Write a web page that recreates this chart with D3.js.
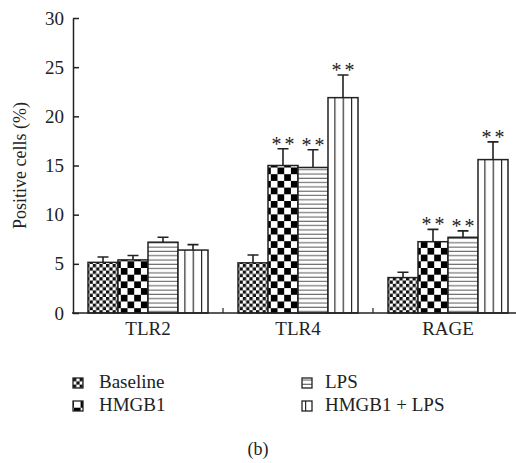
<!DOCTYPE html>
<html>
<head>
<meta charset="utf-8">
<script src="https://cdn.jsdelivr.net/npm/d3@7"></script>
<style>
  body { margin: 0; background: #fff; }
  text { font-family: "Liberation Serif", "DejaVu Serif", serif; fill: #222; }
</style>
</head>
<body>
<div id="chart"></div>
<script>
// data
var groups = ["TLR2", "TLR4", "RAGE"];
var series = ["Baseline", "HMGB1", "LPS", "HMGB1 + LPS"];
var means = [
  [5.15, 5.4, 7.2, 6.4],     // TLR2
  [5.1, 15.0, 14.8, 21.9],   // TLR4
  [3.6, 7.25, 7.7, 15.6]     // RAGE
];
var errs = [
  [0.55, 0.45, 0.5, 0.55],
  [0.8, 1.7, 1.8, 2.3],
  [0.55, 1.25, 0.65, 1.8]
];
var stars = [
  [false, false, false, false],
  [false, true, true, true],
  [false, true, true, true]
];
var yTicks = [0, 5, 10, 15, 20, 25, 30];
var panelLabel = "(b)";

var width = 516, height = 463;
var marginLeft = 73, marginTop = 18, plotBottom = 313;

var svg = d3.select("#chart").append("svg")
  .attr("width", width).attr("height", height);

// patterns
var defs = svg.append("defs");
var p0 = defs.append("pattern").attr("id", "pat0").attr("patternUnits", "userSpaceOnUse")
  .attr("width", 6.6).attr("height", 6.6);
p0.append("rect").attr("width", 6.6).attr("height", 6.6).attr("fill", "#fff");
p0.append("rect").attr("width", 3.3).attr("height", 3.3).attr("fill", "#111");
p0.append("rect").attr("x", 3.3).attr("y", 3.3).attr("width", 3.3).attr("height", 3.3).attr("fill", "#111");

var p1 = defs.append("pattern").attr("id", "pat1").attr("patternUnits", "userSpaceOnUse")
  .attr("x", 88).attr("y", 0).attr("width", 13.4).attr("height", 13.4);
p1.append("rect").attr("width", 13.4).attr("height", 13.4).attr("fill", "#fff");
p1.append("rect").attr("width", 6.7).attr("height", 6.7).attr("fill", "#000");
p1.append("rect").attr("x", 6.7).attr("y", 6.7).attr("width", 6.7).attr("height", 6.7).attr("fill", "#000");

var p2 = defs.append("pattern").attr("id", "pat2").attr("patternUnits", "userSpaceOnUse")
  .attr("width", 10).attr("height", 4.3);
p2.append("rect").attr("width", 10).attr("height", 4.3).attr("fill", "#fff");
p2.append("line").attr("x1", 0).attr("x2", 10).attr("y1", 2).attr("y2", 2)
  .attr("stroke", "#666").attr("stroke-width", 1.1);

var p3 = defs.append("pattern").attr("id", "pat3").attr("patternUnits", "userSpaceOnUse")
  .attr("x", 178).attr("y", 0).attr("width", 150 / 18).attr("height", 10);
p3.append("rect").attr("width", 150 / 18).attr("height", 10).attr("fill", "#fff");
p3.append("line").attr("x1", 0.5).attr("x2", 0.5).attr("y1", 0).attr("y2", 10)
  .attr("stroke", "#222").attr("stroke-width", 1.3);

var fills = ["url(#pat0)", "url(#pat1)", "url(#pat2)", "url(#pat3)"];

// scales
var xScale = d3.scaleBand().domain(groups).range([marginLeft, marginLeft + 450]);
var xInner = d3.scaleBand().domain(series).range([15, 135]);
var yScale = d3.scaleLinear().domain([0, 30]).range([plotBottom, marginTop]);

// bars
var g = svg.selectAll(".grp").data(groups).enter().append("g")
  .attr("transform", function(d) { return "translate(" + xScale(d) + ",0)"; });

g.each(function(grp, gi) {
  var sel = d3.select(this);
  var rows = series.map(function(s, si) {
    return { s: s, si: si, v: means[gi][si], e: errs[gi][si], star: stars[gi][si] };
  });
  // error bars (drawn behind bars)
  sel.selectAll(".err").data(rows).enter().append("path")
    .attr("d", function(d) {
      var cx = xInner(d.s) + xInner.bandwidth() / 2;
      var top = yScale(d.v + d.e);
      return "M" + cx + "," + yScale(d.v) + "V" + top + "M" + (cx - 5.5) + "," + top + "H" + (cx + 5.5);
    })
    .attr("stroke", "#222").attr("stroke-width", 1.6).attr("fill", "none");

  sel.selectAll(".bar").data(rows).enter().append("rect")
    .attr("x", function(d) { return xInner(d.s); })
    .attr("width", xInner.bandwidth())
    .attr("y", function(d) { return yScale(d.v); })
    .attr("height", function(d) { return yScale(0) - yScale(d.v); })
    .attr("fill", function(d) { return fills[d.si]; })
    .attr("stroke", "#222").attr("stroke-width", 1.5);

  // significance marks, two asterisks above the error bar
  sel.selectAll(".star").data(rows.filter(function(d) { return d.star; })).enter().append("text")
    .attr("x", function(d) { return xInner(d.s) + xInner.bandwidth() / 2 + 1.5; })
    .attr("y", function(d) { return yScale(d.v + d.e) + 2; })
    .attr("text-anchor", "middle")
    .style("font-size", "20px")
    .style("letter-spacing", "3px")
    .text("**");
});

// y axis
var yAxis = d3.axisLeft(yScale).tickValues(yTicks).tickSize(-6).tickSizeOuter(0).tickPadding(9);
var ya = svg.append("g").attr("transform", "translate(" + marginLeft + ",0)").call(yAxis);
ya.selectAll("path, line").attr("stroke", "#222").attr("stroke-width", 1.5);
ya.selectAll("text").style("font-size", "19px").attr("fill", "#222");

// x axis
var xAxis = d3.axisBottom(xScale).tickSize(0).tickPadding(9);
var xa = svg.append("g").attr("transform", "translate(0," + plotBottom + ")").call(xAxis);
xa.select(".domain").remove();
xa.selectAll("text").style("font-size", "19px").attr("fill", "#222");
svg.append("line").attr("x1", marginLeft - 1).attr("x2", width)
  .attr("y1", plotBottom).attr("y2", plotBottom)
  .attr("stroke", "#222").attr("stroke-width", 1.5);
svg.selectAll(".sep").data(groups.slice(1)).enter().append("line")
  .attr("x1", function(d) { return xScale(d); }).attr("x2", function(d) { return xScale(d); })
  .attr("y1", plotBottom).attr("y2", plotBottom - 5)
  .attr("stroke", "#222").attr("stroke-width", 1.2);

// y label
svg.append("text")
  .attr("transform", "translate(26," + ((marginTop + plotBottom) / 2) + ") rotate(-90)")
  .attr("text-anchor", "middle")
  .style("font-size", "18px")
  .text("Positive cells (%)");

// legend
var legX = [73, 302], legY = [378, 401];
var leg = svg.selectAll(".leg").data(series).enter().append("g")
  .attr("transform", function(d, i) {
    return "translate(" + legX[Math.floor(i / 2)] + "," + legY[i % 2] + ")";
  });
leg.append("rect").attr("width", 10).attr("height", 10)
  .attr("fill", function(d, i) { return fills[i]; })
  .attr("stroke", "#222").attr("stroke-width", 1.3);
leg.append("text").attr("x", function(d, i) { return i < 2 ? 26 : 23; }).attr("y", 10)
  .style("font-size", "19px").text(function(d) { return d; });

svg.append("text").attr("x", 258).attr("y", 455).attr("text-anchor", "middle")
  .style("font-size", "18px").text(panelLabel);
</script>
</body>
</html>
